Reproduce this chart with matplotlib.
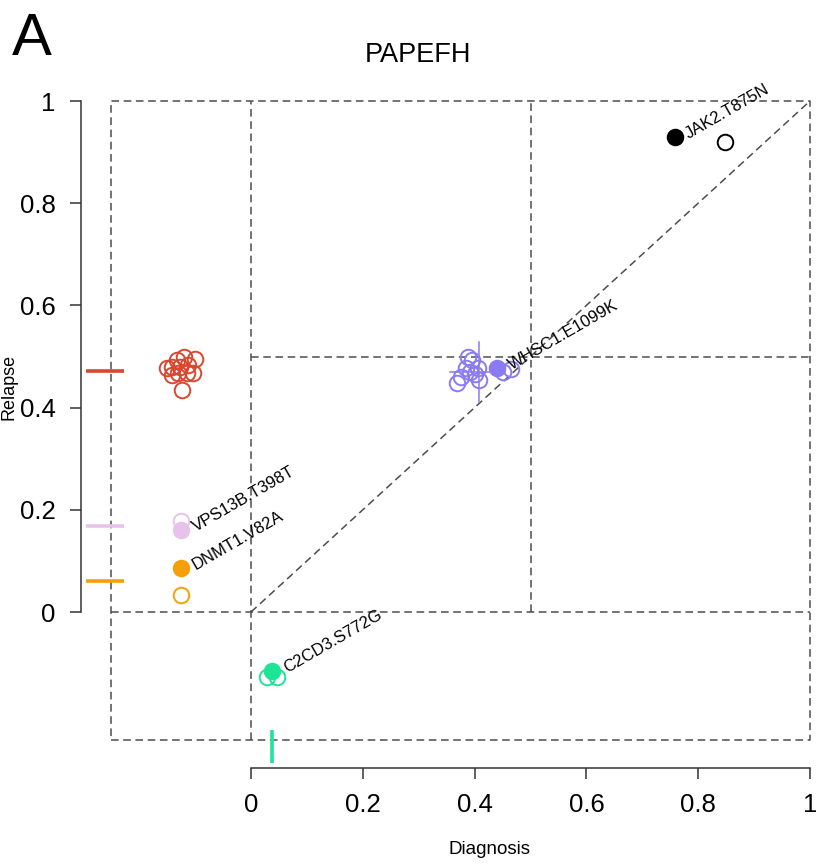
import matplotlib.pyplot as plt

plt.rcParams['font.family'] = ['Liberation Sans', 'DejaVu Sans']

# VAF at diagnosis (x) and relapse (y) for each mutation cluster
black_open_x = [0.848]
black_open_y = [0.920]
black_fill = (0.758, 0.930)

purple_open_x = [0.369, 0.376, 0.392, 0.395, 0.388, 0.408, 0.406, 0.385, 0.401, 0.451, 0.465]
purple_open_y = [0.448, 0.460, 0.470, 0.493, 0.499, 0.454, 0.477, 0.477, 0.466, 0.470, 0.476]
purple_fill = (0.440, 0.477)
purple_cross_x = 0.408
purple_cross_y = 0.470
purple_cross_xr = (0.356, 0.454)
purple_cross_yr = (0.411, 0.528)

red_open_x = [-0.151, -0.133, -0.119, -0.100, -0.141, -0.127, -0.112, -0.130, -0.115, -0.103, -0.142, -0.124]
red_open_y = [0.477, 0.493, 0.500, 0.495, 0.480, 0.480, 0.483, 0.467, 0.467, 0.467, 0.464, 0.434]
red_mean = 0.472

pink_open_x = [-0.125]
pink_open_y = [0.178]
pink_fill = (-0.125, 0.160)
pink_mean = 0.168

orange_open_x = [-0.125]
orange_open_y = [0.033]
orange_fill = (-0.125, 0.086)
orange_mean = 0.061

green_open_x = [0.029, 0.047]
green_open_y = [-0.127, -0.127]
green_fill = (0.038, -0.115)
green_mean = 0.038

labels = ['JAK2.T875N', 'WHSC1.E1099K', 'VPS13B.T398T', 'DNMT1.V82A', 'C2CD3.S772G']

xticks = [0, 0.2, 0.4, 0.6, 0.8, 1]
ticklabels = ['0', '0.2', '0.4', '0.6', '0.8', '1']

c_black = '#000000'
c_purple = '#8B7BF2'
c_red = '#D9472F'
c_pink = '#E8C3E9'
c_orange = '#F5A00A'
c_green = '#1DE597'
c_dash = '#4d4d4d'

W, H = 816, 867
fig = plt.figure(figsize=(W / 100, H / 100), dpi=100)

# pixel positions of 0 and 1 on both axes
x0px, x1px = 251, 810
y0px, y1px = 612, 101
xlim = (-0.31, 1.01)
ylim = (-0.31, 1.01)
sx = x1px - x0px
sy = y0px - y1px
left = x0px + xlim[0] * sx
right = x0px + xlim[1] * sx
top = y0px - ylim[1] * sy
bottom = y0px - ylim[0] * sy
ax = fig.add_axes([left / W, 1 - bottom / H, (right - left) / W, (bottom - top) / H])
ax.set_xlim(*xlim)
ax.set_ylim(*ylim)

# dashed guide lines
dash = dict(color=c_dash, lw=1.1, ls=(0, (5, 3)), zorder=1)
ax.plot([-0.25, 1, 1, -0.25, -0.25], [-0.25, -0.25, 1, 1, -0.25], **dash)
ax.plot([0, 0], [-0.25, 1], **dash)
ax.plot([-0.25, 1], [0, 0], **dash)
ax.plot([0.5, 0.5], [0, 1], **dash)
ax.plot([0, 1], [0.5, 0.5], **dash)
ax.plot([0, 1], [0, 1], **dash)

ms = 11.2
mew = 1.4


def cluster(xs, ys, fill, color):
    ax.plot(xs, ys, 'o', ms=ms, mfc='none', mec=color, mew=mew, zorder=3)
    if fill is not None:
        ax.plot([fill[0]], [fill[1]], 'o', ms=ms, mfc=color, mec=color, mew=mew, zorder=4)


cluster(black_open_x, black_open_y, black_fill, c_black)
cluster(purple_open_x, purple_open_y, purple_fill, c_purple)
cluster(red_open_x, red_open_y, None, c_red)
cluster(pink_open_x, pink_open_y, pink_fill, c_pink)
cluster(orange_open_x, orange_open_y, orange_fill, c_orange)
cluster(green_open_x, green_open_y, green_fill, c_green)

# mean/spread cross of the shared cluster
ax.plot([purple_cross_x, purple_cross_x], purple_cross_yr, color=c_purple, lw=1.1, zorder=3)
ax.plot(purple_cross_xr, [purple_cross_y, purple_cross_y], color=c_purple, lw=1.1, zorder=3)

# marginal marks for clusters only seen at one time point
seg = dict(lw=2.6, solid_capstyle='butt', zorder=2)
ax.plot([-0.295, -0.227], [red_mean, red_mean], color=c_red, **seg)
ax.plot([-0.295, -0.227], [pink_mean, pink_mean], color=c_pink, **seg)
ax.plot([-0.295, -0.227], [orange_mean, orange_mean], color=c_orange, **seg)
ax.plot([green_mean, green_mean], [-0.231, -0.295], color=c_green, **seg)

# mutation labels
for lab, pt in zip(labels, [black_fill, purple_fill, pink_fill, orange_fill, green_fill]):
    ax.text(pt[0] + 0.022, pt[1] + 0.004, lab, fontsize=12, rotation=30, rotation_mode='anchor',
            ha='left', va='center', zorder=5)

for s in ['top', 'right']:
    ax.spines[s].set_visible(False)
ax.spines['left'].set_position(('data', -0.305))
ax.spines['bottom'].set_position(('data', -0.305))
ax.spines['left'].set_bounds(0, 1)
ax.spines['bottom'].set_bounds(0, 1)
for s in ['left', 'bottom']:
    ax.spines[s].set_color('#333333')
    ax.spines[s].set_linewidth(1.1)

ax.set_xticks(xticks)
ax.set_xticklabels(ticklabels)
ax.set_yticks(xticks)
ax.set_yticklabels(ticklabels)
ax.tick_params(axis='both', direction='out', length=8, width=1.1, color='#333333', labelsize=18.5)
ax.tick_params(axis='x', pad=10)
ax.tick_params(axis='y', pad=10)
ax.patch.set_visible(False)

fig.text(418 / W, 1 - 55 / H, 'PAPEFH', fontsize=19.5, ha='center', va='center')
fig.text(12 / W, 1 - 55 / H, 'A', fontsize=43, ha='left', va='baseline')
fig.text(490 / W, 1 - 850 / H, 'Diagnosis', fontsize=13.5, ha='center', va='center')
fig.text(0.5 / W, 1 - 387 / H, 'Relapse', fontsize=13, rotation=90, ha='left', va='center')

fig.savefig('out.png', dpi=100)
